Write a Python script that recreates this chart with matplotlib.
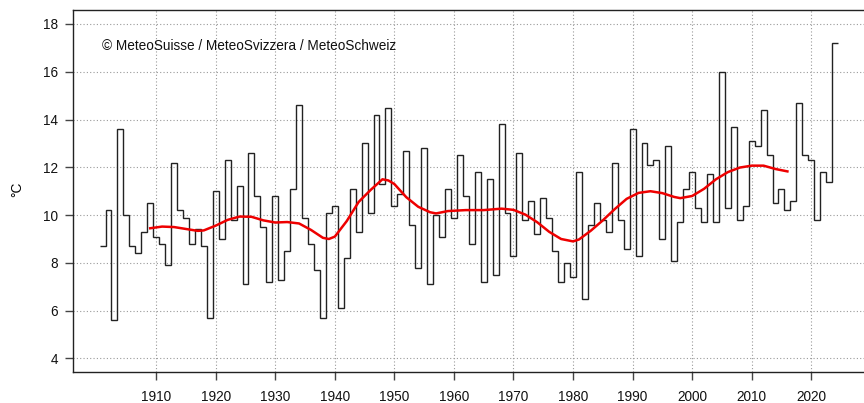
import numpy as np
import matplotlib
matplotlib.use('Agg')
import matplotlib.pyplot as plt

plt.rcParams['font.family'] = ['Liberation Sans', 'DejaVu Sans']

# annual values 1901-2024
years = np.arange(1901, 2025)
temps = [8.7, 10.2, 5.6, 13.6, 10.0, 8.7, 8.4, 9.3, 10.5, 9.1,
         8.8, 7.9, 12.2, 10.2, 9.9, 8.8, 9.4, 8.7, 5.7, 11.0,
         9.0, 12.3, 9.8, 11.2, 7.1, 12.6, 10.8, 9.5, 7.2, 10.8,
         7.3, 8.5, 11.1, 14.6, 9.9, 8.8, 7.7, 5.7, 10.1, 10.4,
         6.1, 8.2, 11.1, 9.3, 13.0, 10.1, 14.2, 11.3, 14.5, 10.4,
         10.9, 12.7, 9.6, 7.8, 12.8, 7.1, 10.0, 9.1, 11.1, 9.9,
         12.5, 10.8, 8.8, 11.8, 7.2, 11.5, 7.5, 13.8, 10.1, 8.3,
         12.6, 9.8, 10.6, 9.2, 10.7, 9.9, 8.5, 7.2, 8.0, 7.4,
         11.8, 6.5, 9.6, 10.5, 9.8, 9.3, 12.2, 9.8, 8.6, 13.6,
         8.3, 13.0, 12.1, 12.3, 9.0, 12.9, 8.1, 9.7, 11.1, 11.8,
         10.3, 9.7, 11.7, 9.7, 16.0, 10.3, 13.7, 9.8, 10.4, 13.1,
         12.9, 14.4, 12.5, 10.5, 11.1, 10.2, 10.6, 14.7, 12.5, 12.3,
         9.8, 11.8, 11.4, 17.2]

# smoothed curve
smooth_years = [1909, 1911, 1913, 1915, 1917, 1918, 1920, 1922, 1924, 1926,
                1928, 1930, 1932, 1934, 1936, 1938, 1939, 1940, 1942, 1944,
                1946, 1948, 1949, 1950, 1952, 1954, 1956, 1957, 1959, 1962,
                1965, 1968, 1970, 1972, 1974, 1976, 1978, 1980, 1981, 1983,
                1985, 1987, 1989, 1991, 1993, 1995, 1997, 1998, 2000, 2002,
                2004, 2006, 2008, 2010, 2012, 2014, 2016]
smooth_vals = [9.45, 9.52, 9.50, 9.42, 9.34, 9.36, 9.56, 9.80, 9.94, 9.93,
               9.78, 9.69, 9.71, 9.65, 9.38, 9.05, 9.00, 9.10, 9.75, 10.55,
               11.05, 11.50, 11.45, 11.30, 10.75, 10.35, 10.12, 10.07, 10.17, 10.21,
               10.21, 10.27, 10.22, 10.02, 9.70, 9.30, 9.00, 8.90, 8.98, 9.35,
               9.78, 10.25, 10.68, 10.93, 11.00, 10.92, 10.76, 10.71, 10.80, 11.10,
               11.50, 11.80, 11.99, 12.07, 12.07, 11.93, 11.83]

xticks = np.arange(1910, 2021, 10)
yticks = np.arange(4, 19, 2)

fig = plt.figure(figsize=(8.64, 4.03), dpi=100)
ax = fig.add_axes([0.0848, 0.0777, 0.9152, 0.8975])

edges = np.append(years - 0.5, years[-1] + 0.5)
ax.stairs(temps, edges, baseline=None, color='#222222', lw=1.0, zorder=3)
ax.plot(smooth_years, smooth_vals, color='#ee0000', lw=1.8, zorder=4)

ax.set_xlim(1896.08, 2028.86)
ax.set_ylim(3.446, 18.586)
ax.set_xticks(xticks)
ax.set_yticks(yticks)
ax.grid(True, color='#9a9a9a', linestyle=(0, (1, 2)), lw=0.8)
ax.set_axisbelow(True)

for s in ['top', 'left', 'bottom']:
    ax.spines[s].set_color('#222222')
    ax.spines[s].set_linewidth(1.0)
ax.spines['right'].set_visible(False)

ax.tick_params(axis='x', length=6, width=1, color='#444444', pad=7,
               labelsize=9.8, labelcolor='#111111')
ax.tick_params(axis='y', length=6, width=1, color='#444444', pad=5,
               labelsize=9.8, labelcolor='#111111')

ax.text(0.0359, 0.9013, '© MeteoSuisse / MeteoSvizzera / MeteoSchweiz',
        transform=ax.transAxes, fontsize=9.8, va='center', ha='left', color='#111111')
fig.text(0.02, 0.53, '°C', rotation=90, fontsize=9.8, va='center', ha='center')

fig.savefig('out.png', dpi=100)
